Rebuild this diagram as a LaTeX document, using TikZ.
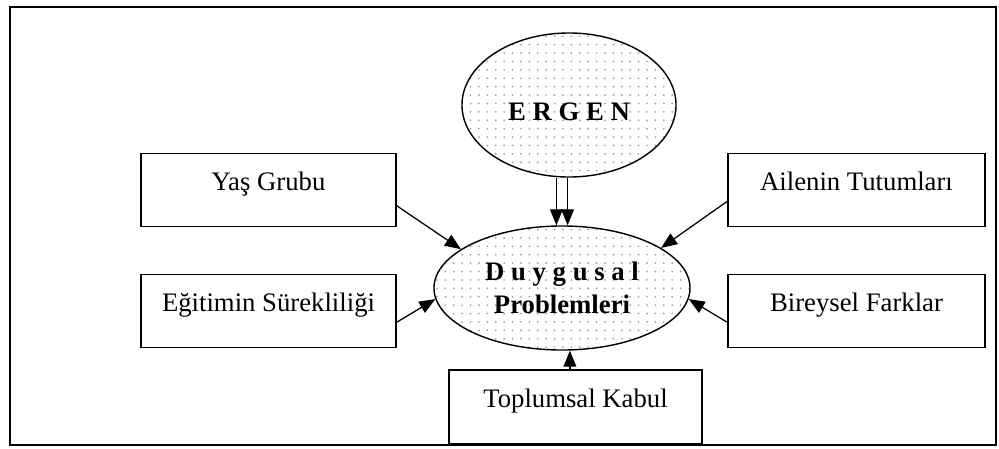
\documentclass[tikz,border=0pt]{standalone}
\usepackage{fontspec}
\setmainfont{Liberation Serif}
\usetikzlibrary{positioning,arrows.meta,shapes.geometric,patterns.meta}

\begin{document}
\begin{tikzpicture}[x=0.025cm, y=-0.025cm, >={Triangle[length=0.4cm,width=0.32cm]},
  factor/.style={rectangle, draw, line width=1pt, minimum height=1.825cm, text height=0.45cm, text depth=0.45cm, inner sep=0pt, font=\fontsize{19}{23}\selectfont},
  cloud/.style={ellipse, draw, line width=1pt, pattern={Dots[distance=0.21cm, radius=0.7pt]}, pattern color=gray!75, inner sep=0pt, align=center, font=\fontsize{19}{23}\selectfont\bfseries},
  link/.style={->, line width=0.9pt}]

\useasboundingbox (0,0) rectangle (999,448);
\draw[line width=0.07cm] (10,7) rectangle (996,445);

% 
\node[cloud, minimum width=5.35cm, minimum height=3.6cm, text height=0.75cm, text depth=0pt] (erg) at (569,105) {E R G E N};
\node[cloud, minimum width=6.4cm, minimum height=3.1cm] (duy) at (562,288) {D u y g u s a l\\Problemleri};

% 
\node[factor, minimum width=6.375cm] (yas) at (268.5,190) {Yaş Grubu};
\node[factor, minimum width=6.375cm] (egi) at (268.5,311) {Eğitimin Sürekliliği};
\node[factor, minimum width=6.425cm] (aile) at (856.5,190) {Ailenin Tutumları};
\node[factor, minimum width=6.425cm] (bir) at (856.5,311) {Bireysel Farklar};
\node[factor, minimum width=6.325cm, minimum height=1.85cm] (top) at (575.5,407) {Toplumsal Kabul};

% 
\draw[link] ([xshift=-0.14cm]duy.north |- erg.south) -- ([xshift=-0.14cm]duy.north);
\draw[link] ([xshift=0.14cm]duy.north |- erg.south) -- ([xshift=0.14cm]duy.north);
\draw[link] (yas.-7) -- (duy.159);
\draw[link] (egi.-5) -- (duy.185);
\draw[link] (aile.185) -- (duy.22);
\draw[link] (bir.185) -- (duy.-5);
\draw[link] ([xshift=-0.14cm]top.north) -- ([xshift=-0.14cm]top.north |- duy.south);

\end{tikzpicture}
\end{document}
